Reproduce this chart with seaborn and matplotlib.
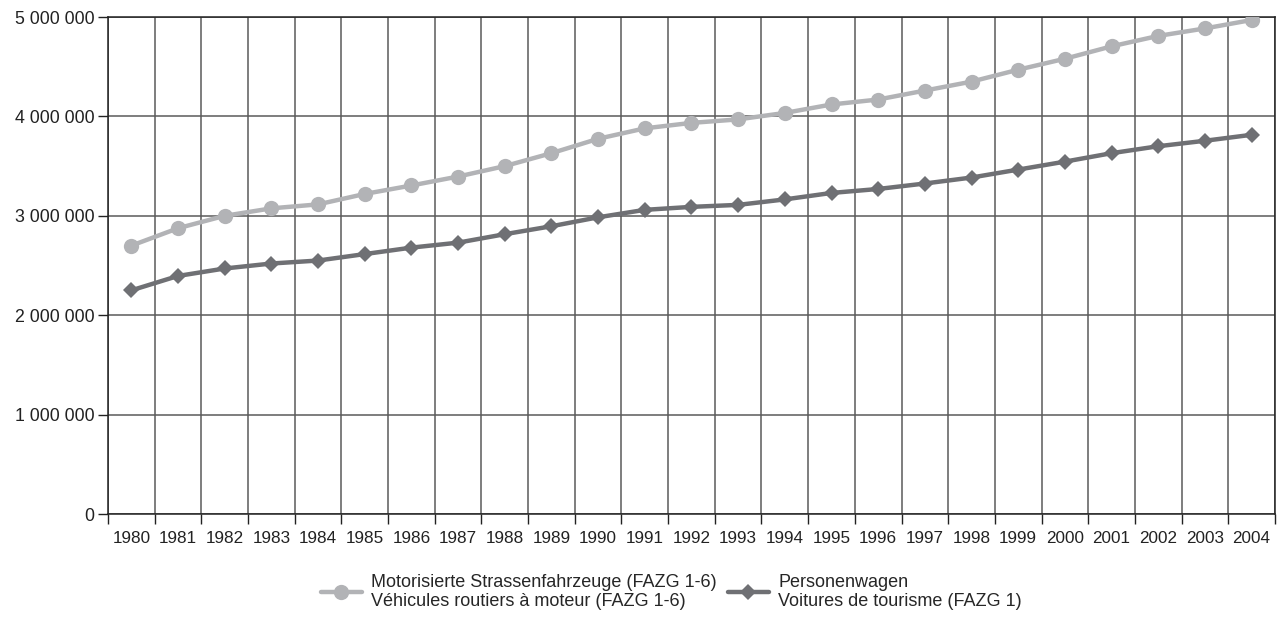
import numpy as np
import pandas as pd
import matplotlib
matplotlib.use('Agg')
import matplotlib.pyplot as plt
from matplotlib.ticker import FixedLocator, FuncFormatter
import seaborn as sns

# ============================================================
# Data
# ============================================================
years = list(range(1980, 2005))
motor_vehicles = [2700000, 2875000, 3000000, 3075000, 3115000, 3220000, 3305000,
                  3395000, 3500000, 3630000, 3775000, 3880000, 3935000, 3970000,
                  4035000, 4120000, 4170000, 4260000, 4350000, 4470000, 4580000,
                  4705000, 4810000, 4885000, 4970000]
cars = [2250000, 2395000, 2470000, 2520000, 2550000, 2615000, 2680000, 2730000,
        2815000, 2895000, 2985000, 3060000, 3090000, 3110000, 3165000, 3230000,
        3270000, 3325000, 3385000, 3465000, 3545000, 3630000, 3700000, 3755000,
        3815000]
labels = ['Motorisierte Strassenfahrzeuge (FAZG 1-6)\nVéhicules routiers à moteur (FAZG 1-6)',
          'Personenwagen\nVoitures de tourisme (FAZG 1)']
y_ticks = [0, 1000000, 2000000, 3000000, 4000000, 5000000]

df = pd.DataFrame({'pos': np.arange(len(years)), 'motor': motor_vehicles, 'cars': cars})

sns.set_style('white')
plt.rcParams['font.family'] = ['Liberation Sans', 'DejaVu Sans']

fig = plt.figure(figsize=(12.86, 6.21), dpi=100)
ax = fig.add_axes([0.084, 0.1723, 0.9074, 0.8003])

sns.lineplot(data=df, x='pos', y='motor', ax=ax, color='#b2b3b6', linewidth=3.2,
             marker='o', markersize=11, markeredgewidth=0, label=labels[0], zorder=4)
sns.lineplot(data=df, x='pos', y='cars', ax=ax, color='#6f7074', linewidth=3.2,
             marker='D', markersize=8, markeredgewidth=0, label=labels[1], zorder=5)

ax.set_xlim(-0.5, len(years) - 0.5)
ax.set_ylim(0, 5000000)

# gridlines at category boundaries, labels at centers
ax.xaxis.set_major_locator(FixedLocator(np.arange(-0.5, len(years), 1.0)))
ax.xaxis.set_major_formatter(FuncFormatter(lambda v, p: ''))
ax.xaxis.set_minor_locator(FixedLocator(np.arange(len(years))))
ax.xaxis.set_minor_formatter(FuncFormatter(lambda v, p: str(years[int(round(v))])))
ax.tick_params(axis='x', which='major', length=7, width=1, color='#222222', direction='out', bottom=True)
ax.tick_params(axis='x', which='minor', length=0, labelsize=12.3, pad=12, labelcolor='#222222')

ax.set_yticks(y_ticks)
ax.yaxis.set_major_formatter(FuncFormatter(lambda v, p: f'{int(v):,}'.replace(',', ' ')))
ax.tick_params(axis='y', length=7, width=1, color='#222222', direction='out', left=True,
               labelsize=12.8, labelcolor='#222222', pad=3)

ax.grid(True, which='major', color='#5a5a5a', linewidth=1.1)
ax.set_axisbelow(True)
for s in ax.spines.values():
    s.set_color('#222222')
    s.set_linewidth(1.1)
ax.set_xlabel('')
ax.set_ylabel('')

handles, lbls = ax.get_legend_handles_labels()
ax.get_legend().remove()
fig.legend(handles, lbls, loc='center', bbox_to_anchor=(0.522, 0.047), ncol=2,
           frameon=False, fontsize=13, handlelength=2.3, columnspacing=0.6,
           handletextpad=0.5)

plt.savefig('out.png', dpi=100)
